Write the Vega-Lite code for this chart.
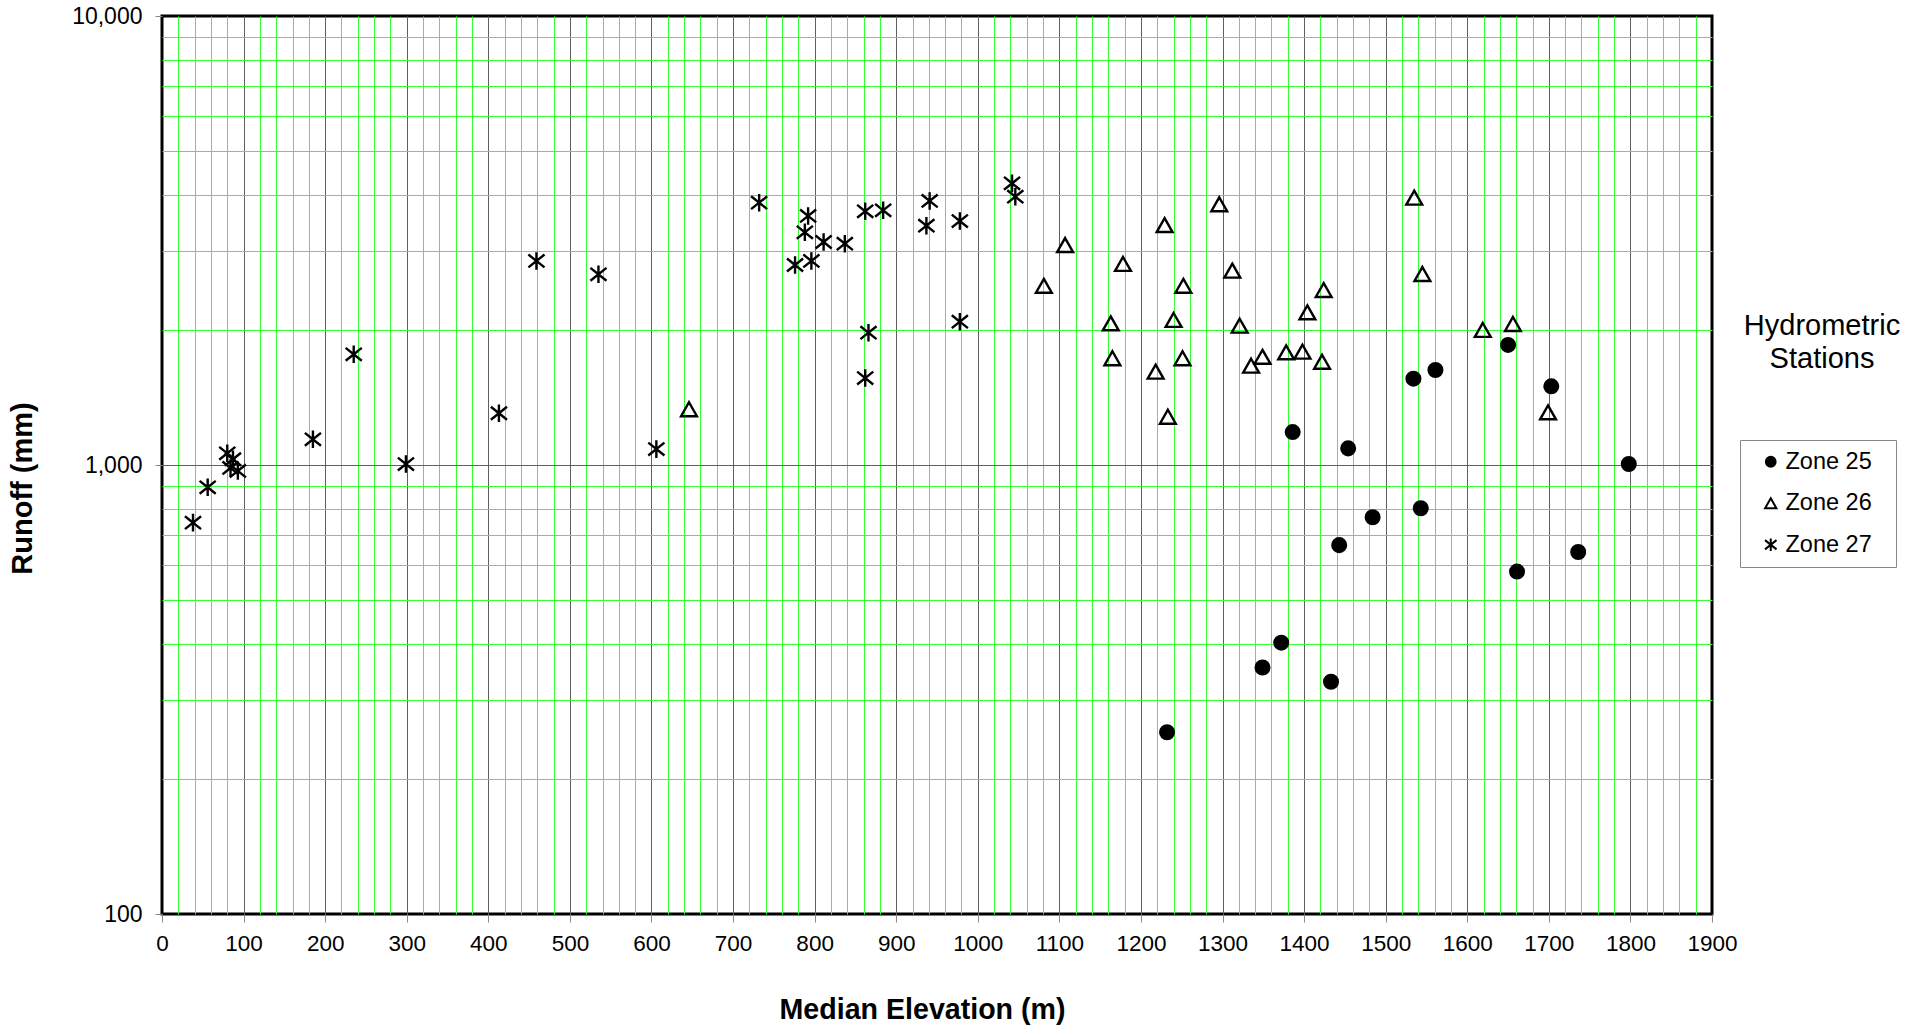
{
  "$schema": "https://vega.github.io/schema/vega-lite/v6.json",
  "width": 1550,
  "height": 898,
  "autosize": {"type": "none"},
  "padding": {"left": 162, "top": 16, "right": 211, "bottom": 113},
  "background": "white",
  "config": {
    "font": "Liberation Sans",
    "view": {"stroke": "black", "strokeWidth": 3},
    "axis": {"labelFont": "Liberation Sans", "titleFont": "Liberation Sans", "labelColor": "black", "titleColor": "black"}
  },
  "title": {
    "text": ["Hydrometric", "Stations"],
    "orient": "top",
    "anchor": "start",
    "frame": "group",
    "align": "center",
    "baseline": "top",
    "dx": 1660,
    "dy": 369,
    "offset": 0,
    "fontSize": 29,
    "fontWeight": "normal",
    "font": "Liberation Sans",
    "color": "black",
    "lineHeight": 33
  },
  "data": {
    "values": [
      {"elev": 38, "runoff": 744, "zone": "Zone 27"},
      {"elev": 56, "runoff": 892, "zone": "Zone 27"},
      {"elev": 80, "runoff": 1062, "zone": "Zone 27"},
      {"elev": 87, "runoff": 1030, "zone": "Zone 27"},
      {"elev": 84, "runoff": 985, "zone": "Zone 27"},
      {"elev": 93, "runoff": 970, "zone": "Zone 27"},
      {"elev": 185, "runoff": 1141, "zone": "Zone 27"},
      {"elev": 235, "runoff": 1764, "zone": "Zone 27"},
      {"elev": 299, "runoff": 1005, "zone": "Zone 27"},
      {"elev": 413, "runoff": 1304, "zone": "Zone 27"},
      {"elev": 459, "runoff": 2847, "zone": "Zone 27"},
      {"elev": 535, "runoff": 2659, "zone": "Zone 27"},
      {"elev": 606, "runoff": 1085, "zone": "Zone 27"},
      {"elev": 732, "runoff": 3839, "zone": "Zone 27"},
      {"elev": 776, "runoff": 2789, "zone": "Zone 27"},
      {"elev": 788, "runoff": 3298, "zone": "Zone 27"},
      {"elev": 792, "runoff": 3586, "zone": "Zone 27"},
      {"elev": 796, "runoff": 2847, "zone": "Zone 27"},
      {"elev": 811, "runoff": 3138, "zone": "Zone 27"},
      {"elev": 837, "runoff": 3111, "zone": "Zone 27"},
      {"elev": 862, "runoff": 3673, "zone": "Zone 27"},
      {"elev": 862, "runoff": 1562, "zone": "Zone 27"},
      {"elev": 866, "runoff": 1971, "zone": "Zone 27"},
      {"elev": 884, "runoff": 3692, "zone": "Zone 27"},
      {"elev": 937, "runoff": 3412, "zone": "Zone 27"},
      {"elev": 941, "runoff": 3873, "zone": "Zone 27"},
      {"elev": 978, "runoff": 3494, "zone": "Zone 27"},
      {"elev": 978, "runoff": 2085, "zone": "Zone 27"},
      {"elev": 1042, "runoff": 4239, "zone": "Zone 27"},
      {"elev": 1046, "runoff": 3959, "zone": "Zone 27"},
      {"elev": 646, "runoff": 1331, "zone": "Zone 26"},
      {"elev": 1081, "runoff": 2507, "zone": "Zone 26"},
      {"elev": 1107, "runoff": 3090, "zone": "Zone 26"},
      {"elev": 1163, "runoff": 2068, "zone": "Zone 26"},
      {"elev": 1165, "runoff": 1729, "zone": "Zone 26"},
      {"elev": 1178, "runoff": 2804, "zone": "Zone 26"},
      {"elev": 1218, "runoff": 1614, "zone": "Zone 26"},
      {"elev": 1229, "runoff": 3422, "zone": "Zone 26"},
      {"elev": 1233, "runoff": 1281, "zone": "Zone 26"},
      {"elev": 1240, "runoff": 2104, "zone": "Zone 26"},
      {"elev": 1252, "runoff": 2507, "zone": "Zone 26"},
      {"elev": 1251, "runoff": 1729, "zone": "Zone 26"},
      {"elev": 1296, "runoff": 3808, "zone": "Zone 26"},
      {"elev": 1312, "runoff": 2709, "zone": "Zone 26"},
      {"elev": 1321, "runoff": 2043, "zone": "Zone 26"},
      {"elev": 1335, "runoff": 1664, "zone": "Zone 26"},
      {"elev": 1349, "runoff": 1742, "zone": "Zone 26"},
      {"elev": 1378, "runoff": 1782, "zone": "Zone 26"},
      {"elev": 1398, "runoff": 1788, "zone": "Zone 26"},
      {"elev": 1404, "runoff": 2188, "zone": "Zone 26"},
      {"elev": 1422, "runoff": 1698, "zone": "Zone 26"},
      {"elev": 1424, "runoff": 2453, "zone": "Zone 26"},
      {"elev": 1535, "runoff": 3939, "zone": "Zone 26"},
      {"elev": 1545, "runoff": 2663, "zone": "Zone 26"},
      {"elev": 1619, "runoff": 1999, "zone": "Zone 26"},
      {"elev": 1656, "runoff": 2061, "zone": "Zone 26"},
      {"elev": 1699, "runoff": 1310, "zone": "Zone 26"},
      {"elev": 1232, "runoff": 254, "zone": "Zone 25"},
      {"elev": 1349, "runoff": 354, "zone": "Zone 25"},
      {"elev": 1372, "runoff": 402, "zone": "Zone 25"},
      {"elev": 1386, "runoff": 1184, "zone": "Zone 25"},
      {"elev": 1433, "runoff": 329, "zone": "Zone 25"},
      {"elev": 1443, "runoff": 663, "zone": "Zone 25"},
      {"elev": 1454, "runoff": 1089, "zone": "Zone 25"},
      {"elev": 1484, "runoff": 765, "zone": "Zone 25"},
      {"elev": 1534, "runoff": 1557, "zone": "Zone 25"},
      {"elev": 1543, "runoff": 801, "zone": "Zone 25"},
      {"elev": 1561, "runoff": 1628, "zone": "Zone 25"},
      {"elev": 1650, "runoff": 1851, "zone": "Zone 25"},
      {"elev": 1661, "runoff": 579, "zone": "Zone 25"},
      {"elev": 1703, "runoff": 1497, "zone": "Zone 25"},
      {"elev": 1736, "runoff": 640, "zone": "Zone 25"},
      {"elev": 1798, "runoff": 1005, "zone": "Zone 25"}
    ]
  },
  "layer": [
    {
      "mark": {"type": "point", "opacity": 0},
      "encoding": {
        "x": {
          "field": "elev", "type": "quantitative",
          "scale": {"domain": [0, 1900], "nice": false, "zero": false},
          "axis": {
            "orient": "bottom", "title": null, "labels": false, "ticks": false, "domain": false,
            "grid": true, "gridColor": "#33ff33", "gridWidth": 1, "gridOpacity": 1,
            "values": [20,40,60,80,120,140,160,180,220,240,260,280,320,340,360,380,420,440,460,480,520,540,560,580,620,640,660,680,720,740,760,780,820,840,860,880,920,940,960,980,1020,1040,1060,1080,1120,1140,1160,1180,1220,1240,1260,1280,1320,1340,1360,1380,1420,1440,1460,1480,1520,1540,1560,1580,1620,1640,1660,1680,1720,1740,1760,1780,1820,1840,1860,1880]
          }
        },
        "y": {
          "field": "runoff", "type": "quantitative",
          "scale": {"type": "log", "domain": [100, 10000], "nice": false},
          "axis": {
            "orient": "left", "title": null, "labels": false, "ticks": false, "domain": false,
            "grid": true, "gridColor": "#33ff33", "gridWidth": 1, "gridOpacity": 1,
            "values": [200,300,400,500,600,700,800,900,2000,3000,4000,5000,6000,7000,8000,9000]
          }
        }
      }
    },
    {
      "mark": {"type": "point", "filled": false, "size": 215, "strokeWidth": 2.4, "stroke": "black", "opacity": 1},
      "encoding": {
        "x": {
          "field": "elev", "type": "quantitative",
          "scale": {"domain": [0, 1900], "nice": false, "zero": false},
          "axis": {
            "orient": "bottom",
            "values": [0,100,200,300,400,500,600,700,800,900,1000,1100,1200,1300,1400,1500,1600,1700,1800,1900],
            "format": "d",
            "grid": true, "gridColor": "#606060", "gridWidth": 1,
            "gridOpacity": {"condition": {"test": "datum.value <= 0 || datum.value >= 1900", "value": 0}, "value": 1},
            "domain": false,
            "ticks": true, "tickColor": "#888888", "tickSize": 8, "tickWidth": 1,
            "labelFontSize": 22.5, "labelPadding": 10, "labelFlush": false, "labelOverlap": false,
            "title": "Median Elevation (m)", "titleFontSize": 28.6, "titleFontWeight": "bold",
            "titleX": 760, "titleY": 95, "titleAlign": "center", "titleBaseline": "middle"
          }
        },
        "y": {
          "field": "runoff", "type": "quantitative",
          "scale": {"type": "log", "domain": [100, 10000], "nice": false},
          "axis": {
            "orient": "left",
            "values": [100, 1000, 10000],
            "format": ",d",
            "grid": true, "gridColor": "#606060", "gridWidth": 1,
            "gridOpacity": {"condition": {"test": "datum.value <= 100 || datum.value >= 10000", "value": 0}, "value": 1},
            "domain": false,
            "ticks": true, "tickColor": "#888888", "tickSize": 7, "tickWidth": 1,
            "labelFontSize": 23, "labelPadding": 13, "labelOverlap": false, "labelFlush": false,
            "title": "Runoff (mm)", "titleFontSize": 29, "titleFontWeight": "bold",
            "titleX": -140, "titleY": 472, "titleAngle": 270, "titleAlign": "center", "titleBaseline": "middle"
          }
        },
        "shape": {
          "field": "zone", "type": "nominal",
          "scale": {
            "domain": ["Zone 25", "Zone 26", "Zone 27"],
            "range": [
              "M0.93,0A0.93,0.93,0,1,1,-0.93,0A0.93,0.93,0,1,1,0.93,0M0.68,0A0.68,0.68,0,1,1,-0.68,0A0.68,0.68,0,1,1,0.68,0M0.43,0A0.43,0.43,0,1,1,-0.43,0A0.43,0.43,0,1,1,0.43,0M0.18,0A0.18,0.18,0,1,1,-0.18,0A0.18,0.18,0,1,1,0.18,0",
              "M0,-0.95L1.08,0.95L-1.08,0.95Z",
              "M0,-1.2L0,1.2M-1.1,-0.88L1.1,0.88M-1.1,0.88L1.1,-0.88"
            ]
          },
          "legend": {
            "title": "\u00a0", "titleOrient": "right", "titlePadding": 14, "titleFontSize": 4, "titleOpacity": 0,
            "orient": "none", "legendX": 1578, "legendY": 424,
            "strokeColor": "#888888", "fillColor": "white", "padding": 10, "rowPadding": 16.5,
            "symbolOffset": 9, "symbolSize": 110, "symbolStrokeWidth": 2, "symbolStrokeColor": "black",
            "labelFont": "Liberation Sans", "labelFontSize": 23.5, "labelColor": "black", "labelOffset": 3
          }
        }
      }
    }
  ],
  "resolve": {"axis": {"x": "independent", "y": "independent"}}
}
